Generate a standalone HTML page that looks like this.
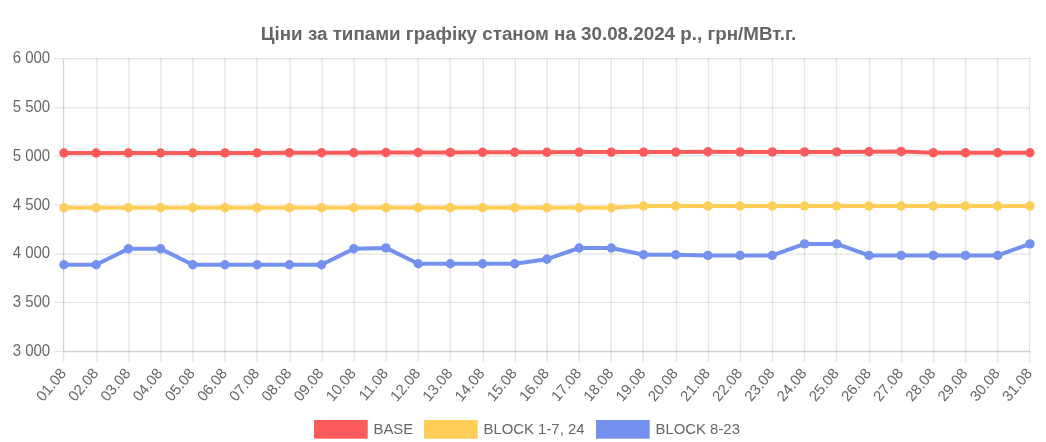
<!DOCTYPE html>
<html lang="uk"><head><meta charset="utf-8"><title>Chart</title>
<style>html,body{margin:0;padding:0;background:#fff;}body{width:1046px;height:442px;overflow:hidden;}svg{display:block;will-change:transform;}text{font-family:"Liberation Sans",sans-serif;fill:#666666;}</style></head><body>
<svg width="1046" height="442" viewBox="0 0 1046 442">
<rect width="1046" height="442" fill="#fff"/>
<text x="528.5" y="39.5" text-anchor="middle" font-size="18.8" font-weight="bold">Ціни за типами графіку станом на 30.08.2024 р., грн/МВт.г.</text>
<g fill="rgba(0,0,0,0.1)"><rect x="54.31" y="57.93" width="975.95" height="1.3333"/><rect x="54.31" y="107.13" width="975.95" height="1.3333"/><rect x="54.31" y="155.23" width="975.95" height="1.3333"/><rect x="54.31" y="204.33" width="975.95" height="1.3333"/><rect x="54.31" y="253.43" width="975.95" height="1.3333"/><rect x="54.31" y="301.83" width="975.95" height="1.3333"/><rect x="54.31" y="350.83" width="8.57" height="1.3333"/><rect x="62.88" y="352.17" width="1.3333" height="9.90"/><rect x="96.19" y="57.93" width="1.3333" height="304.13"/><rect x="128.17" y="57.93" width="1.3333" height="304.13"/><rect x="160.15" y="57.93" width="1.3333" height="304.13"/><rect x="192.13" y="57.93" width="1.3333" height="304.13"/><rect x="224.11" y="57.93" width="1.3333" height="304.13"/><rect x="256.09" y="57.93" width="1.3333" height="304.13"/><rect x="289.40" y="57.93" width="1.3333" height="304.13"/><rect x="321.38" y="57.93" width="1.3333" height="304.13"/><rect x="353.36" y="57.93" width="1.3333" height="304.13"/><rect x="385.34" y="57.93" width="1.3333" height="304.13"/><rect x="417.32" y="57.93" width="1.3333" height="304.13"/><rect x="449.30" y="57.93" width="1.3333" height="304.13"/><rect x="482.61" y="57.93" width="1.3333" height="304.13"/><rect x="514.59" y="57.93" width="1.3333" height="304.13"/><rect x="546.57" y="57.93" width="1.3333" height="304.13"/><rect x="578.55" y="57.93" width="1.3333" height="304.13"/><rect x="610.53" y="57.93" width="1.3333" height="304.13"/><rect x="642.51" y="57.93" width="1.3333" height="304.13"/><rect x="675.82" y="57.93" width="1.3333" height="304.13"/><rect x="707.80" y="57.93" width="1.3333" height="304.13"/><rect x="739.78" y="57.93" width="1.3333" height="304.13"/><rect x="771.76" y="57.93" width="1.3333" height="304.13"/><rect x="803.74" y="57.93" width="1.3333" height="304.13"/><rect x="835.72" y="57.93" width="1.3333" height="304.13"/><rect x="869.03" y="57.93" width="1.3333" height="304.13"/><rect x="901.01" y="57.93" width="1.3333" height="304.13"/><rect x="932.99" y="57.93" width="1.3333" height="304.13"/><rect x="964.97" y="57.93" width="1.3333" height="304.13"/><rect x="996.95" y="57.93" width="1.3333" height="304.13"/><rect x="1028.93" y="57.93" width="1.3333" height="304.13"/></g>
<path fill="rgba(0,0,0,0.18)" d="M62.88 59.27 H64.21 V350.83 H1030.26 V352.17 H62.88 Z"/>
<text transform="translate(50.2 63.20) scale(1 1.06)" text-anchor="end" font-size="15.0">6 000</text>
<text transform="translate(50.2 112.00) scale(1 1.06)" text-anchor="end" font-size="15.0">5 500</text>
<text transform="translate(50.2 160.80) scale(1 1.06)" text-anchor="end" font-size="15.0">5 000</text>
<text transform="translate(50.2 209.60) scale(1 1.06)" text-anchor="end" font-size="15.0">4 500</text>
<text transform="translate(50.2 258.40) scale(1 1.06)" text-anchor="end" font-size="15.0">4 000</text>
<text transform="translate(50.2 307.20) scale(1 1.06)" text-anchor="end" font-size="15.0">3 500</text>
<text transform="translate(50.2 356.00) scale(1 1.06)" text-anchor="end" font-size="15.0">3 000</text>
<text transform="translate(62.85 370.40) rotate(-50)" text-anchor="end" font-size="14.9" y="5.2">01.08</text>
<text transform="translate(95.05 370.40) rotate(-50)" text-anchor="end" font-size="14.9" y="5.2">02.08</text>
<text transform="translate(127.25 370.40) rotate(-50)" text-anchor="end" font-size="14.9" y="5.2">03.08</text>
<text transform="translate(159.45 370.40) rotate(-50)" text-anchor="end" font-size="14.9" y="5.2">04.08</text>
<text transform="translate(191.65 370.40) rotate(-50)" text-anchor="end" font-size="14.9" y="5.2">05.08</text>
<text transform="translate(223.85 370.40) rotate(-50)" text-anchor="end" font-size="14.9" y="5.2">06.08</text>
<text transform="translate(256.05 370.40) rotate(-50)" text-anchor="end" font-size="14.9" y="5.2">07.08</text>
<text transform="translate(288.25 370.40) rotate(-50)" text-anchor="end" font-size="14.9" y="5.2">08.08</text>
<text transform="translate(320.45 370.40) rotate(-50)" text-anchor="end" font-size="14.9" y="5.2">09.08</text>
<text transform="translate(352.65 370.40) rotate(-50)" text-anchor="end" font-size="14.9" y="5.2">10.08</text>
<text transform="translate(384.85 370.40) rotate(-50)" text-anchor="end" font-size="14.9" y="5.2">11.08</text>
<text transform="translate(417.05 370.40) rotate(-50)" text-anchor="end" font-size="14.9" y="5.2">12.08</text>
<text transform="translate(449.25 370.40) rotate(-50)" text-anchor="end" font-size="14.9" y="5.2">13.08</text>
<text transform="translate(481.45 370.40) rotate(-50)" text-anchor="end" font-size="14.9" y="5.2">14.08</text>
<text transform="translate(513.65 370.40) rotate(-50)" text-anchor="end" font-size="14.9" y="5.2">15.08</text>
<text transform="translate(545.85 370.40) rotate(-50)" text-anchor="end" font-size="14.9" y="5.2">16.08</text>
<text transform="translate(578.05 370.40) rotate(-50)" text-anchor="end" font-size="14.9" y="5.2">17.08</text>
<text transform="translate(610.25 370.40) rotate(-50)" text-anchor="end" font-size="14.9" y="5.2">18.08</text>
<text transform="translate(642.45 370.40) rotate(-50)" text-anchor="end" font-size="14.9" y="5.2">19.08</text>
<text transform="translate(674.65 370.40) rotate(-50)" text-anchor="end" font-size="14.9" y="5.2">20.08</text>
<text transform="translate(706.85 370.40) rotate(-50)" text-anchor="end" font-size="14.9" y="5.2">21.08</text>
<text transform="translate(739.05 370.40) rotate(-50)" text-anchor="end" font-size="14.9" y="5.2">22.08</text>
<text transform="translate(771.25 370.40) rotate(-50)" text-anchor="end" font-size="14.9" y="5.2">23.08</text>
<text transform="translate(803.45 370.40) rotate(-50)" text-anchor="end" font-size="14.9" y="5.2">24.08</text>
<text transform="translate(835.65 370.40) rotate(-50)" text-anchor="end" font-size="14.9" y="5.2">25.08</text>
<text transform="translate(867.85 370.40) rotate(-50)" text-anchor="end" font-size="14.9" y="5.2">26.08</text>
<text transform="translate(900.05 370.40) rotate(-50)" text-anchor="end" font-size="14.9" y="5.2">27.08</text>
<text transform="translate(932.25 370.40) rotate(-50)" text-anchor="end" font-size="14.9" y="5.2">28.08</text>
<text transform="translate(964.45 370.40) rotate(-50)" text-anchor="end" font-size="14.9" y="5.2">29.08</text>
<text transform="translate(996.65 370.40) rotate(-50)" text-anchor="end" font-size="14.9" y="5.2">30.08</text>
<text transform="translate(1028.85 370.40) rotate(-50)" text-anchor="end" font-size="14.9" y="5.2">31.08</text>
<polyline points="63.95,153.00 96.15,153.00 128.35,153.00 160.55,153.00 192.75,153.00 224.95,152.90 257.15,152.90 289.35,152.70 321.55,152.70 353.75,152.70 385.95,152.50 418.15,152.50 450.35,152.40 482.55,152.20 514.75,152.20 546.95,152.20 579.15,152.10 611.35,152.10 643.55,152.10 675.75,152.10 707.95,151.70 740.15,151.90 772.35,151.90 804.55,151.90 836.75,151.90 868.95,151.80 901.15,151.50 933.35,152.80 965.55,152.80 997.75,152.80 1029.95,152.80" fill="none" stroke="#fb5b5b" stroke-width="4" stroke-linejoin="round" stroke-linecap="butt"/><g fill="#fb5b5b"><circle cx="63.95" cy="153.00" r="4.7"/><circle cx="96.15" cy="153.00" r="4.7"/><circle cx="128.35" cy="153.00" r="4.7"/><circle cx="160.55" cy="153.00" r="4.7"/><circle cx="192.75" cy="153.00" r="4.7"/><circle cx="224.95" cy="152.90" r="4.7"/><circle cx="257.15" cy="152.90" r="4.7"/><circle cx="289.35" cy="152.70" r="4.7"/><circle cx="321.55" cy="152.70" r="4.7"/><circle cx="353.75" cy="152.70" r="4.7"/><circle cx="385.95" cy="152.50" r="4.7"/><circle cx="418.15" cy="152.50" r="4.7"/><circle cx="450.35" cy="152.40" r="4.7"/><circle cx="482.55" cy="152.20" r="4.7"/><circle cx="514.75" cy="152.20" r="4.7"/><circle cx="546.95" cy="152.20" r="4.7"/><circle cx="579.15" cy="152.10" r="4.7"/><circle cx="611.35" cy="152.10" r="4.7"/><circle cx="643.55" cy="152.10" r="4.7"/><circle cx="675.75" cy="152.10" r="4.7"/><circle cx="707.95" cy="151.70" r="4.7"/><circle cx="740.15" cy="151.90" r="4.7"/><circle cx="772.35" cy="151.90" r="4.7"/><circle cx="804.55" cy="151.90" r="4.7"/><circle cx="836.75" cy="151.90" r="4.7"/><circle cx="868.95" cy="151.80" r="4.7"/><circle cx="901.15" cy="151.50" r="4.7"/><circle cx="933.35" cy="152.80" r="4.7"/><circle cx="965.55" cy="152.80" r="4.7"/><circle cx="997.75" cy="152.80" r="4.7"/><circle cx="1029.95" cy="152.80" r="4.7"/></g>
<polyline points="63.95,207.80 96.15,207.80 128.35,207.80 160.55,207.80 192.75,207.80 224.95,207.80 257.15,207.80 289.35,207.80 321.55,207.80 353.75,207.80 385.95,207.80 418.15,207.80 450.35,207.80 482.55,207.80 514.75,207.80 546.95,207.80 579.15,207.80 611.35,207.80 643.55,206.00 675.75,206.00 707.95,206.00 740.15,206.00 772.35,206.00 804.55,206.00 836.75,206.00 868.95,206.00 901.15,206.00 933.35,206.00 965.55,206.00 997.75,206.00 1029.95,206.00" fill="none" stroke="#fece58" stroke-width="4" stroke-linejoin="round" stroke-linecap="butt"/><g fill="#fece58"><circle cx="63.95" cy="207.80" r="4.7"/><circle cx="96.15" cy="207.80" r="4.7"/><circle cx="128.35" cy="207.80" r="4.7"/><circle cx="160.55" cy="207.80" r="4.7"/><circle cx="192.75" cy="207.80" r="4.7"/><circle cx="224.95" cy="207.80" r="4.7"/><circle cx="257.15" cy="207.80" r="4.7"/><circle cx="289.35" cy="207.80" r="4.7"/><circle cx="321.55" cy="207.80" r="4.7"/><circle cx="353.75" cy="207.80" r="4.7"/><circle cx="385.95" cy="207.80" r="4.7"/><circle cx="418.15" cy="207.80" r="4.7"/><circle cx="450.35" cy="207.80" r="4.7"/><circle cx="482.55" cy="207.80" r="4.7"/><circle cx="514.75" cy="207.80" r="4.7"/><circle cx="546.95" cy="207.80" r="4.7"/><circle cx="579.15" cy="207.80" r="4.7"/><circle cx="611.35" cy="207.80" r="4.7"/><circle cx="643.55" cy="206.00" r="4.7"/><circle cx="675.75" cy="206.00" r="4.7"/><circle cx="707.95" cy="206.00" r="4.7"/><circle cx="740.15" cy="206.00" r="4.7"/><circle cx="772.35" cy="206.00" r="4.7"/><circle cx="804.55" cy="206.00" r="4.7"/><circle cx="836.75" cy="206.00" r="4.7"/><circle cx="868.95" cy="206.00" r="4.7"/><circle cx="901.15" cy="206.00" r="4.7"/><circle cx="933.35" cy="206.00" r="4.7"/><circle cx="965.55" cy="206.00" r="4.7"/><circle cx="997.75" cy="206.00" r="4.7"/><circle cx="1029.95" cy="206.00" r="4.7"/></g>
<polyline points="63.95,264.70 96.15,264.70 128.35,248.80 160.55,248.80 192.75,264.70 224.95,264.70 257.15,264.70 289.35,264.70 321.55,264.70 353.75,248.80 385.95,247.90 418.15,263.70 450.35,263.70 482.55,263.70 514.75,263.70 546.95,259.20 579.15,248.00 611.35,248.00 643.55,254.75 675.75,254.75 707.95,255.40 740.15,255.40 772.35,255.40 804.55,243.90 836.75,243.90 868.95,255.40 901.15,255.40 933.35,255.40 965.55,255.40 997.75,255.40 1029.95,243.90" fill="none" stroke="#7491f0" stroke-width="4" stroke-linejoin="round" stroke-linecap="butt"/><g fill="#7491f0"><circle cx="63.95" cy="264.70" r="4.7"/><circle cx="96.15" cy="264.70" r="4.7"/><circle cx="128.35" cy="248.80" r="4.7"/><circle cx="160.55" cy="248.80" r="4.7"/><circle cx="192.75" cy="264.70" r="4.7"/><circle cx="224.95" cy="264.70" r="4.7"/><circle cx="257.15" cy="264.70" r="4.7"/><circle cx="289.35" cy="264.70" r="4.7"/><circle cx="321.55" cy="264.70" r="4.7"/><circle cx="353.75" cy="248.80" r="4.7"/><circle cx="385.95" cy="247.90" r="4.7"/><circle cx="418.15" cy="263.70" r="4.7"/><circle cx="450.35" cy="263.70" r="4.7"/><circle cx="482.55" cy="263.70" r="4.7"/><circle cx="514.75" cy="263.70" r="4.7"/><circle cx="546.95" cy="259.20" r="4.7"/><circle cx="579.15" cy="248.00" r="4.7"/><circle cx="611.35" cy="248.00" r="4.7"/><circle cx="643.55" cy="254.75" r="4.7"/><circle cx="675.75" cy="254.75" r="4.7"/><circle cx="707.95" cy="255.40" r="4.7"/><circle cx="740.15" cy="255.40" r="4.7"/><circle cx="772.35" cy="255.40" r="4.7"/><circle cx="804.55" cy="243.90" r="4.7"/><circle cx="836.75" cy="243.90" r="4.7"/><circle cx="868.95" cy="255.40" r="4.7"/><circle cx="901.15" cy="255.40" r="4.7"/><circle cx="933.35" cy="255.40" r="4.7"/><circle cx="965.55" cy="255.40" r="4.7"/><circle cx="997.75" cy="255.40" r="4.7"/><circle cx="1029.95" cy="243.90" r="4.7"/></g>
<rect x="314.00" y="420" width="53.7" height="18.7" fill="#fb5b5b"/>
<text x="373.50" y="433.8" font-size="14.9">BASE</text>
<rect x="424.00" y="420" width="53.7" height="18.7" fill="#fece58"/>
<text x="483.50" y="433.8" font-size="14.9">BLOCK 1-7, 24</text>
<rect x="596.00" y="420" width="53.7" height="18.7" fill="#7491f0"/>
<text x="655.50" y="433.8" font-size="14.9">BLOCK 8-23</text>
</svg></body></html>
